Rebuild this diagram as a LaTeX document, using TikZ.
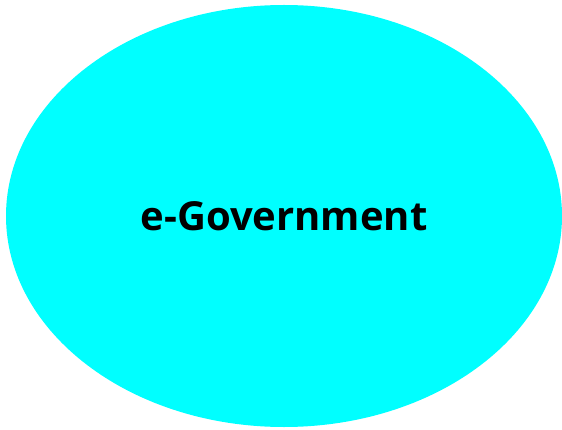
\documentclass[tikz,border=0pt]{standalone}
\usepackage{fontspec}
\setmainfont{Open Sans}
\usetikzlibrary{shapes.geometric}
\definecolor{aqua}{RGB}{0,255,255}

\begin{document}
\begin{tikzpicture}[x=1pt,y=1pt]
    \useasboundingbox (0,0) rectangle (562,429);
    \fill[aqua] (284,213) ellipse (278 and 211);
    \node (egov) at (284,213) {\fontsize{40}{48}\selectfont\bfseries e-Government};
\end{tikzpicture}
\end{document}
